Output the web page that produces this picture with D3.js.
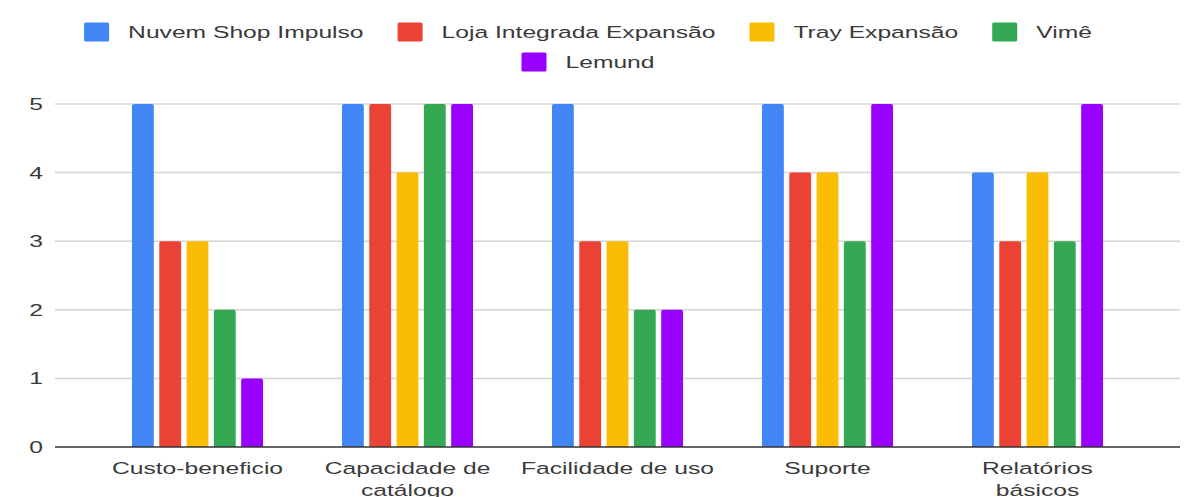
<!DOCTYPE html>
<html>
<head>
<meta charset="utf-8">
<script src="https://cdn.jsdelivr.net/npm/d3@7"></script>
<style>
  body { margin: 0; background: #fff; }
  svg { display: block; }
  text { font-family: "Liberation Sans", Arial, sans-serif; fill: #3a3a3a; }
</style>
</head>
<body>
<svg></svg>
<script>
// Chart data
const categories = ["Custo-beneficio", "Capacidade de catálogo", "Facilidade de uso", "Suporte", "Relatórios básicos"];
const categoryLines = [["Custo-beneficio"], ["Capacidade de", "catálogo"], ["Facilidade de uso"], ["Suporte"], ["Relatórios", "básicos"]];
const seriesNames = ["Nuvem Shop Impulso", "Loja Integrada Expansão", "Tray Expansão", "Vimê", "Lemund"];
const seriesColors = ["#4285F4", "#EA4335", "#FBBC04", "#34A853", "#9900FF"];
const nuvemShop = [5, 5, 5, 5, 4];
const lojaIntegrada = [3, 5, 3, 4, 3];
const tray = [3, 4, 3, 4, 4];
const vime = [2, 5, 2, 3, 3];
const lemund = [1, 5, 2, 5, 5];
const yTicks = [0, 1, 2, 3, 4, 5];

const seriesValues = [nuvemShop, lojaIntegrada, tray, vime, lemund];

const width = 1193;
const height = 497;
const sx = 1.45;      // text in the picture is stretched horizontally
const fontSize = 17;

const svg = d3.select("svg")
    .attr("width", width)
    .attr("height", height);

// Scales
const x0 = d3.scaleBand()
    .domain(categories)
    .range([92.5, 1142.5])
    .paddingInner(0.376)
    .paddingOuter(0.188);

const x1 = d3.scaleBand()
    .domain(seriesNames)
    .range([0, x0.bandwidth()])
    .paddingInner(0.2);

const y = d3.scaleLinear()
    .domain([0, 5])
    .range([447, 104]);

const gridLeft = 55, gridRight = 1180;

// Gridlines
svg.append("g")
    .selectAll("line")
    .data(yTicks.filter(d => d !== 0))
    .enter()
    .append("line")
    .attr("x1", gridLeft)
    .attr("x2", gridRight)
    .attr("y1", d => y(d))
    .attr("y2", d => y(d))
    .style("stroke", "#d4d4d4")
    .style("stroke-width", 1.5);

// Y tick labels
svg.append("g")
    .selectAll("text")
    .data(yTicks)
    .enter()
    .append("text")
    .attr("transform", d => `translate(43,${y(d) + 6}) scale(${sx},1)`)
    .attr("text-anchor", "end")
    .style("font-size", fontSize + "px")
    .text(d => d);

// Bars
const rows = categories.map((c, i) => ({
    category: c,
    values: seriesNames.map((s, j) => ({ series: s, value: seriesValues[j][i], color: seriesColors[j] }))
}));

const groups = svg.append("g")
    .selectAll("g")
    .data(rows)
    .enter()
    .append("g")
    .attr("transform", d => `translate(${x0(d.category)},0)`);

groups.selectAll("path")
    .data(d => d.values)
    .enter()
    .append("path")
    .attr("d", d => {
        const bx = x1(d.series), bw = x1.bandwidth();
        const top = y(d.value), bottom = y(0), r = 2;
        return `M${bx},${bottom}V${top + r}Q${bx},${top} ${bx + r},${top}H${bx + bw - r}Q${bx + bw},${top} ${bx + bw},${top + r}V${bottom}Z`;
    })
    .style("fill", d => d.color);

// Baseline
svg.append("line")
    .attr("x1", gridLeft)
    .attr("x2", gridRight)
    .attr("y1", y(0))
    .attr("y2", y(0))
    .style("stroke", "#333")
    .style("stroke-width", 1.5);

// X labels (second lines run off the bottom edge, as in the picture)
const xLabels = svg.append("g")
    .selectAll("text")
    .data(categories)
    .enter()
    .append("text")
    .attr("transform", d => `translate(${x0(d) + x0.bandwidth() / 2},474) scale(${sx},1)`)
    .attr("text-anchor", "middle")
    .style("font-size", fontSize + "px");

xLabels.selectAll("tspan")
    .data((d, i) => categoryLines[i])
    .enter()
    .append("tspan")
    .attr("x", 0)
    .attr("dy", (d, i) => i === 0 ? 0 : 22)
    .text(d => d);

// Legend
const legendRows = [seriesNames.slice(0, 4), seriesNames.slice(4)];
const legendY = [32, 62];
const swW = 25, swH = 19, swGap = 19, itemGap = 34, legendCenter = 588;

legendRows.forEach((names, r) => {
    const g = svg.append("g");
    const items = names.map(name => {
        const item = g.append("g");
        const idx = seriesNames.indexOf(name);
        item.append("rect")
            .attr("width", swW)
            .attr("height", swH)
            .attr("y", legendY[r] - swH / 2)
            .attr("rx", 1.5)
            .style("fill", seriesColors[idx]);
        const t = item.append("text")
            .attr("transform", `translate(${swW + swGap},${legendY[r] + 6}) scale(${sx},1)`)
            .style("font-size", fontSize + "px")
            .text(name);
        const w = swW + swGap + t.node().getComputedTextLength() * sx;
        return { item, w };
    });
    const total = d3.sum(items, d => d.w) + itemGap * (items.length - 1);
    let cx = legendCenter - total / 2;
    items.forEach(d => {
        d.item.attr("transform", `translate(${cx},0)`);
        cx += d.w + itemGap;
    });
});
</script>
</body>
</html>
